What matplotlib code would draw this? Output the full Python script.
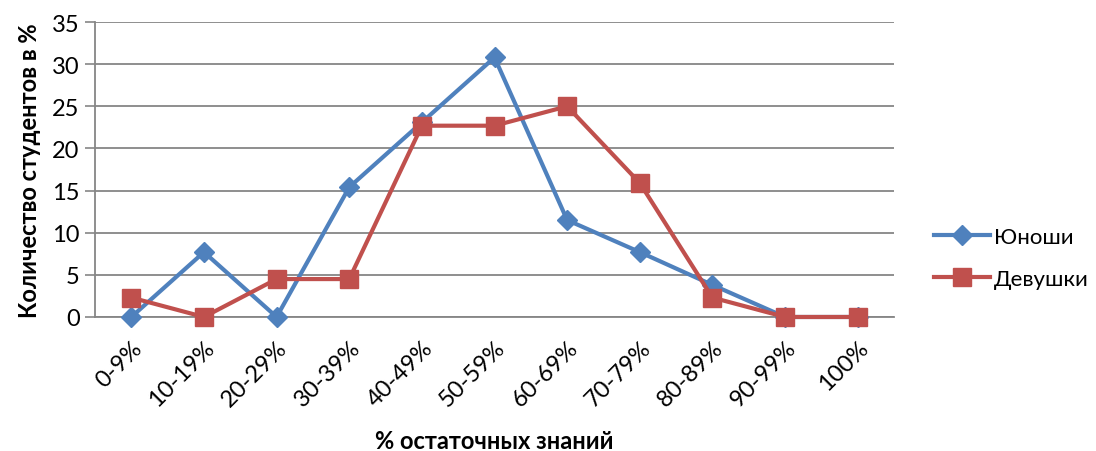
import numpy as np
import matplotlib.pyplot as plt

# категории и значения (в %)
categories = ['0-9%', '10-19%', '20-29%', '30-39%', '40-49%', '50-59%',
              '60-69%', '70-79%', '80-89%', '90-99%', '100%']
boys = [0, 7.7, 0, 15.4, 23.1, 30.8, 11.5, 7.7, 3.8, 0, 0]
girls = [2.3, 0, 4.5, 4.5, 22.7, 22.7, 25.0, 15.9, 2.3, 0, 0]
y_ticks = [0, 5, 10, 15, 20, 25, 30, 35]

plt.rcParams['font.family'] = ['Lato', 'DejaVu Sans']

fig = plt.figure(figsize=(10.96, 4.52), dpi=100)
ax = fig.add_axes([0.0867, 0.2965, 0.729, 0.6525])

x = np.arange(len(categories))
ax.plot(x, boys, color='#4F81BD', lw=3, marker='D', ms=10,
        label='Юноши', zorder=3, clip_on=False)
ax.plot(x, girls, color='#C0504D', lw=3, marker='s', ms=13,
        label='Девушки', zorder=4, clip_on=False)

ax.set_xlim(-0.5, len(categories) - 0.5)
ax.set_ylim(0, 35)
ax.set_yticks(y_ticks)
ax.set_xticks(x)
ax.set_xticklabels(categories, rotation=45, ha='right', rotation_mode='anchor')
ax.tick_params(axis='x', length=0, labelsize=17, pad=14)
ax.tick_params(axis='y', length=7, width=1.2, color='#868686', labelsize=17, pad=4)

ax.grid(axis='y', color='#868686', lw=1.3)
ax.set_axisbelow(True)
for side in ['top', 'right']:
    ax.spines[side].set_visible(False)
for side in ['left', 'bottom']:
    ax.spines[side].set_color('#868686')
    ax.spines[side].set_linewidth(1.3)

ax.set_xlabel('% остаточных знаний', fontsize=17, fontweight='bold', labelpad=14)
ax.set_ylabel('Количество студентов в %', fontsize=17, fontweight='bold', labelpad=8)

ax.legend(loc='center left', bbox_to_anchor=(1.025, 0.2), frameon=False,
          fontsize=16, handlelength=2.5, handletextpad=0.2, labelspacing=1.0)

plt.savefig('out.png', dpi=100)
